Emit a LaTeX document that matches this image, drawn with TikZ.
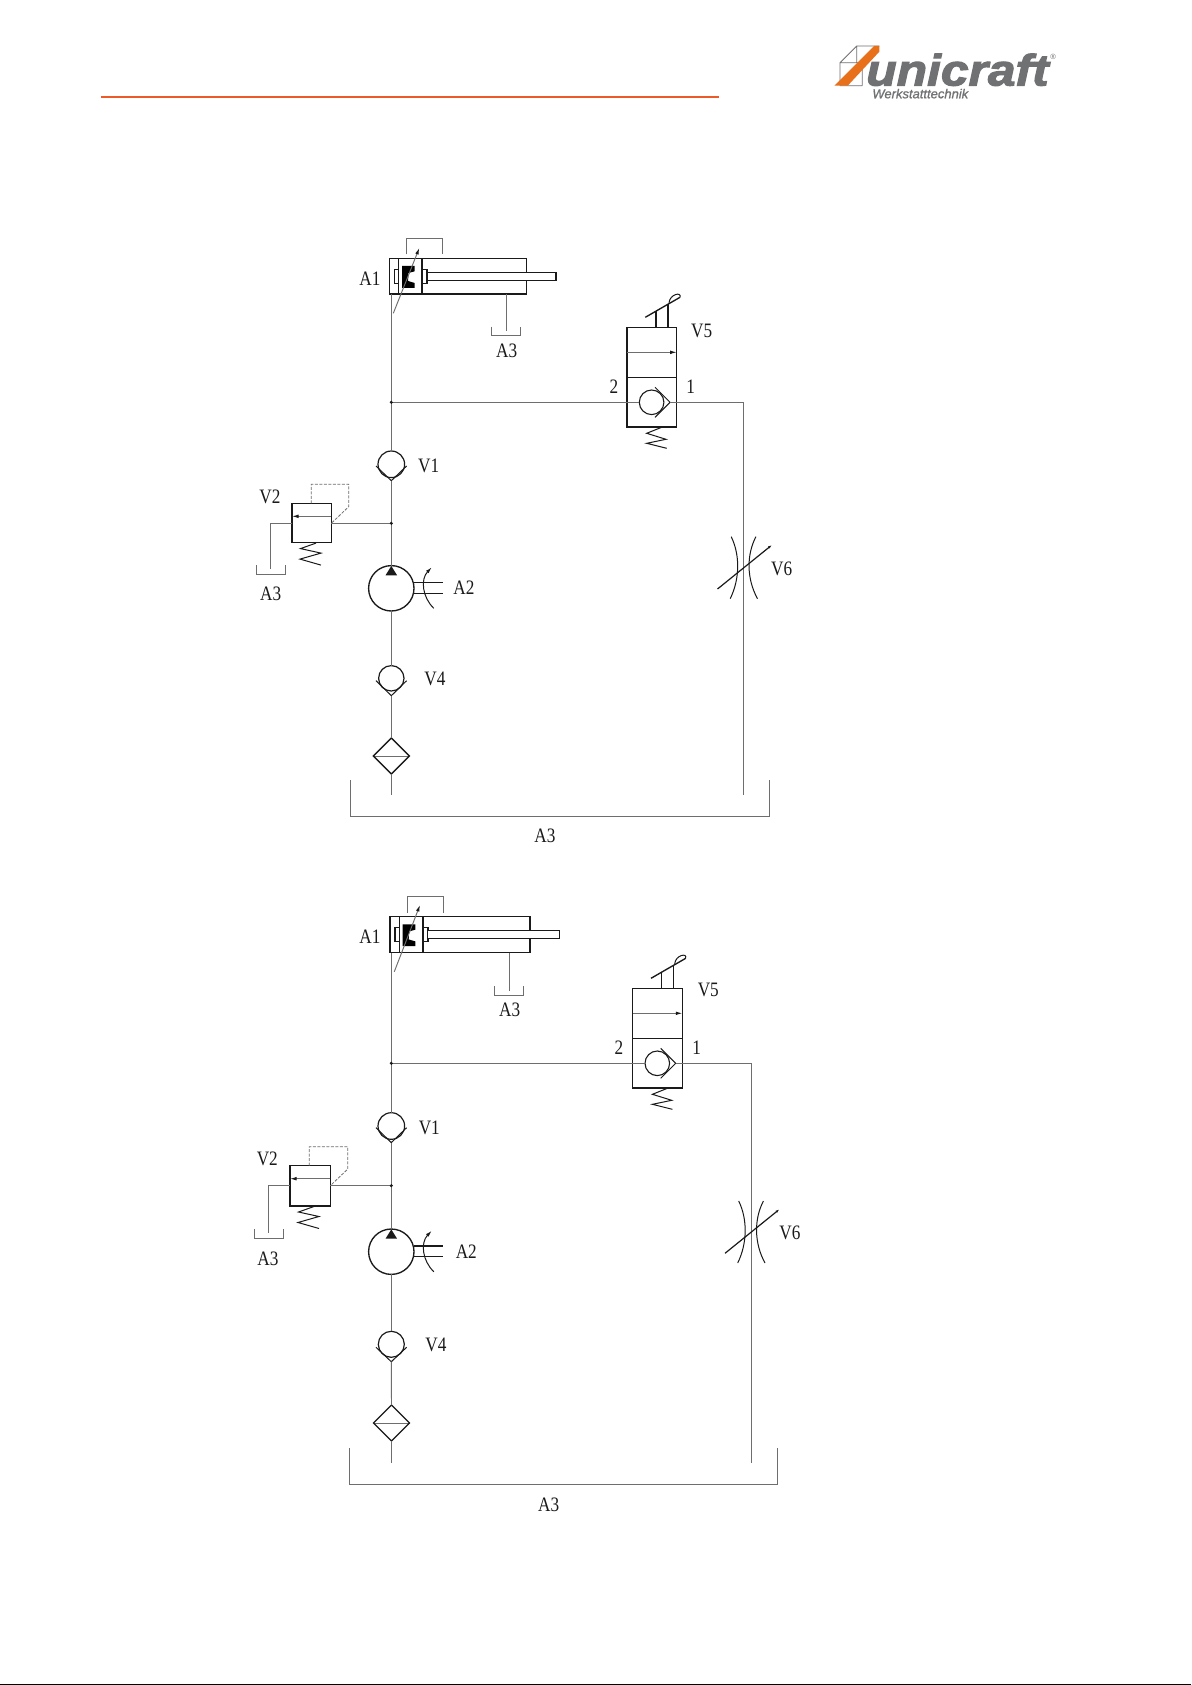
\documentclass[tikz,border=0pt]{standalone}
\usepackage{fontspec}
\usetikzlibrary{arrows.meta}
\newfontfamily\lblfont[FakeStretch=0.84]{Liberation Serif}
\newfontfamily\logofont[FakeStretch=1.13,FakeBold=2.6]{Liberation Sans Bold Italic}
\newfontfamily\subfont[FakeBold=0.9]{Liberation Sans Italic}
\newfontfamily\regfont{Liberation Sans}
\definecolor{linegray}{HTML}{6E6E6E}
\definecolor{inkdark}{HTML}{1A1A1A}
\definecolor{logogray}{HTML}{707173}
\definecolor{logoorange}{HTML}{E8701A}
\definecolor{rulered}{HTML}{EC5A29}
\tikzset{
  pipe/.style={draw=linegray,line width=0.95pt},
  ink/.style={draw=inkdark,line width=1.35pt},
  finepen/.style={draw=inkdark,line width=1pt},
  pilot/.style={draw=linegray,line width=0.8pt,dash pattern=on 3pt off 1.5pt},
  lbl/.style={font=\lblfont\fontsize{20.5}{21}\selectfont,text=inkdark,inner sep=0pt},
  roundnode/.style={circle,ink,inner sep=0pt,outer sep=0pt,minimum size=#1},
  boxnode/.style={rectangle,ink,inner sep=0pt,outer sep=0pt},
  dot/.style={circle,fill=inkdark,inner sep=0pt,minimum size=3.4pt},
  tipsmall/.style={-{Latex[length=6.5pt,width=3.6pt,color=inkdark]}},
}
% rectangle node from corners
\newcommand{\BoxFrom}[5]{\node[boxnode,minimum width={(#4-(#2))*1pt},minimum height={(#5-(#3))*1pt}] (#1) at ({(#2+#4)/2},{(#3+#5)/2}) {};}
% check valve: name, cx, cy, radius, V start offset, tip offset
\newcommand{\CheckV}[6]{%
  \node[roundnode={2*#4*1pt},line width=1.2pt] (#1) at (#2,#3) {};
  \coordinate (#1tip) at (#2,#3+#6);
  \draw[finepen] (#2-15.3,#3+#5) -- (#1tip) -- (#2+15.3,#3+#5);
}
% tank bracket: name, x1, x2, ytop, ybottom
\newcommand{\TankB}[5]{%
  \coordinate (#1a) at (#2,#4); \coordinate (#1b) at (#2,#5);
  \coordinate (#1c) at (#3,#5); \coordinate (#1d) at (#3,#4);
  \draw[pipe] (#1a) -- (#1b) -- (#1c) -- (#1d);
}
% lever valve: suffix, circle cx, cy
\newcommand{\LeverValve}[3]{%
  \BoxFrom{vbox#1}{#2-24.7}{#3-75}{#2+25}{#3-24.6}
  \BoxFrom{vlow#1}{#2-24.7}{#3-24.6}{#2+25}{#3+24.7}
  \node[roundnode=24.6pt,draw=inkdark,line width=1.1pt] (vcirc#1) at (#2-0.1,#3) {};
  \coordinate (vtip#1) at (#2+18.3,#3);
  \draw[finepen] (#2+3.3,#3-15) -- (vtip#1) -- (#2+3.3,#3+15);
  \begin{scope}[shift={(#2,#3)}]
    \draw[pipe,tipsmall] (-24.7,-50) -- (25,-50);
    \draw[ink] (4.3,-75) -- (4.3,-91);
    \draw[ink] (16.3,-75) -- (16.3,-98.5);
    \draw[ink] (-6.4,-85) -- (28.3,-105);
    \draw[finepen] (17.3,-99.5) .. controls (18,-108) and (30,-111) .. (28.3,-105);
    \draw[finepen] (10,25) -- (-5,31) -- (14.3,37) -- (-5,41) -- (15,46);
  \end{scope}
}
% relief valve: suffix, x1, y1, size
\newcommand{\Relief}[4]{%
  \BoxFrom{rv#1}{#2}{#3}{#2+#4}{#3+#4}
  \draw[pipe,tipsmall] (#2+#4,#3+13) -- (#2,#3+13);
  \draw[pilot] (#2+19.3,#3) -- (#2+19.3,#3-19) -- (#2+#4+17.4,#3-19) -- (#2+#4+17.4,#3+3.4) -- (#2+#4,#3+20);
  \begin{scope}[shift={(#2,#3+#4)}]
    \draw[finepen] (24,0.5) -- (8.5,6) -- (29,10.5) -- (8,16.5) -- (29,22.5);
  \end{scope}
}
% pump: name, cx, cy
\newcommand{\Pump}[3]{%
  \node[roundnode=45.4pt] (#1) at (#2,#3) {};
  \begin{scope}[shift={(#2,#3)}]
    \fill[inkdark] (0,-22.3) -- (5.8,-13) -- (-5.8,-13) -- cycle;
    \draw[ink] (22.7,-5.6) -- (51.7,-5.6);
    \draw[ink] (22.7,5.1) -- (51.7,5.1);
    \draw[finepen,tipsmall] (42.5,20) .. controls (31,9) and (29,-9) .. (40.5,-21);
  \end{scope}
}
% filter: name, cx, cy
\newcommand{\FilterD}[3]{%
  \coordinate (#1n) at (#2,#3-18); \coordinate (#1s) at (#2,#3+18);
  \coordinate (#1w) at (#2-18,#3); \coordinate (#1e) at (#2+18,#3);
  \draw[pipe] (#1w) -- (#1e);
  \draw[ink] (#1n) -- (#1e) -- (#1s) -- (#1w) -- cycle;
}
% throttle: name, x, y (centre of pinch)
\newcommand{\Throttle}[3]{%
  \begin{scope}[shift={(#2,#3)}]
    \draw[finepen] (-12.3,-30) .. controls (-3.5,-12) and (-3.5,12) .. (-13.3,32);
    \draw[finepen] (12.4,-30) .. controls (3,-12) and (3,12) .. (14,32);
    \draw[draw=inkdark,line width=1.2pt,-{Latex[length=4pt,width=2.6pt]}] (-26,22.3) -- (28.4,-21.7);
  \end{scope}
}
% cylinder: suffix, x1, y1, x2, y2, vertical inner x a, x b, block y1, y2
\newcommand{\Cyl}[9]{%
  \BoxFrom{cyl#1}{#2}{#3}{#4}{#5}
  \draw[ink] (#6,#3) -- (#6,#5);
  \draw[ink] (#7,#3) -- (#7,#5);
  \draw[fill=white,ink] (#7+0.7,#8) rectangle (#7+5,#9);
  \draw[ink] (#6-4.4,#8) rectangle (#6,#9);
  \begin{scope}[shift={(#6+3.4,#8-3.3)}]
    \fill[black] (0,0) -- (12.6,0) -- (12.6,5.3) -- (6.4,7) -- (6,15) -- (12.6,17) -- (12.6,21.8) -- (0,21.8) -- cycle;
  \end{scope}
}
\begin{document}
\begin{tikzpicture}[x=1pt,y=-1pt]
\useasboundingbox (0,0) rectangle (1191,1685);
\fill[white] (0,0) rectangle (1191,1685);
% header
\coordinate (ruleL) at (101,96.7); \coordinate (ruleR) at (719,96.7);
\draw[rulered,line width=2pt] (ruleL) -- (ruleR);
\fill[black] (0,1683.6) rectangle (1191,1685);
% logo
\draw[logogray,line width=0.8pt] (840,62.7) -- (856.7,46) -- (879.3,46) (840,62.7) -- (840,85.7) (840,62.7) -- (862.3,62.7) -- (862.3,85.7) (856.7,46) -- (856.7,62.7) (840,85.7) -- (862.3,85.7);
\fill[logoorange] (834.3,85.7) -- (847.7,85.7) -- (879.3,51.7) -- (879.3,46) -- (874,46) -- cycle;
\node[font=\logofont\fontsize{44}{44}\selectfont,text=logogray,inner sep=0pt,anchor=base] (logoname) at (957.5,85.5) {unicraft};
\node[font=\subfont\fontsize{13}{14}\selectfont,text=logogray,inner sep=0pt,anchor=base] (logosub) at (920.3,98.3) {Werkstatttechnik};
\node[font=\regfont\fontsize{7.5}{8}\selectfont,text=logogray,inner sep=0pt] (logoreg) at (1053,56.5) {®};

%%%%%%%%%% upper circuit
\Cyl{a}{389.5}{258.7}{526.7}{294}{398.7}{422}{269.3}{283.3}
\draw[ink,fill=white] (427.3,272.3) rectangle (556,280.7);
\coordinate (brA) at (406.3,254.3); \coordinate (brB) at (406.3,238.3);
\coordinate (brC) at (442.3,238.3); \coordinate (brD) at (442.3,254.3);
\draw[pipe] (brA) -- (brB) -- (brC) -- (brD);
\coordinate (adjAs) at (393.3,313.3); \coordinate (adjAe) at (419.3,248);
\draw[pipe,tipsmall] (adjAs) -- (adjAe);
\coordinate (portAtop) at (391.3,294);
\coordinate (j1a) at (391.3,402.3);
\coordinate (j2a) at (391.3,523.3);
\LeverValve{a}{651.7}{402.3}
\CheckV{chk1a}{391.3}{464.3}{13.3}{1.7}{16.4}
\Relief{a}{292}{503.3}{39.3}
\Pump{pumpa}{391.3}{588.3}
\CheckV{chk4a}{391.3}{678.3}{12.7}{2.4}{17.4}
\FilterD{fila}{391.3}{756}
\coordinate (suctA) at (391.3,794.7);
\TankB{tkmainA}{350.3}{769.5}{780.3}{816.3}
\TankB{tkcylA}{491.3}{520.3}{326.7}{335.3}
\TankB{tkrvA}{256.7}{285.3}{565}{574.3}
\coordinate (cylDrainA) at (506.3,294); \coordinate (cylDrainAe) at (506.3,331);
\draw[pipe] (cylDrainA) -- (cylDrainAe);
\coordinate (cornA) at (743.3,402.3); \coordinate (retA) at (743.3,794.7);
\coordinate (rvcA) at (270.7,523.3); \coordinate (rvdA) at (270.7,569.3);
\draw[pipe] (portAtop) -- (j1a) -- (chk1a.north);
\draw[pipe] (j1a) -- (vcirca.west);
\draw[pipe] (vtipa) -- (cornA) -- (retA);
\draw[pipe] (chk1atip) -- (j2a) -- (pumpa.north);
\draw[pipe] (j2a) -- (rva.east |- j2a);
\draw[pipe] (rva.west |- j2a) -- (rvcA) -- (rvdA);
\draw[pipe] (pumpa.south) -- (chk4a.north);
\draw[pipe] (chk4atip) -- (filan);
\draw[pipe] (filas) -- (suctA);
\node[dot] (dj1a) at (j1a) {};
\node[dot] (dj2a) at (j2a) {};
\Throttle{thra}{743.5}{566.7}
\node[lbl] (lA1a) at (370,278.7) {A1};
\node[lbl] (lA3a) at (506.7,350.7) {A3};
\node[lbl] (lV5a) at (701.7,330.7) {V5};
\node[lbl] (l2a) at (614,386.7) {2};
\node[lbl] (l1a) at (690.7,386.7) {1};
\node[lbl] (lV1a) at (428.7,466) {V1};
\node[lbl] (lV2a) at (270,496.7) {V2};
\node[lbl] (lA3ra) at (270.7,594) {A3};
\node[lbl] (lA2a) at (464,587.3) {A2};
\node[lbl] (lV4a) at (435,679.3) {V4};
\node[lbl] (lV6a) at (781.7,569.3) {V6};
\node[lbl] (lA3ma) at (545,836) {A3};

%%%%%%%%%% lower circuit
\Cyl{b}{390}{916.7}{530}{952.7}{399.3}{423}{927.7}{941.7}
\draw[ink,fill=white] (427.7,930.7) rectangle (559.3,938.7);
\coordinate (brE) at (407.3,912.7); \coordinate (brF) at (407.3,896);
\coordinate (brG) at (443.3,896); \coordinate (brH) at (443.3,912.7);
\draw[pipe] (brE) -- (brF) -- (brG) -- (brH);
\coordinate (adjBs) at (394.3,971.7); \coordinate (adjBe) at (420,905);
\draw[pipe,tipsmall] (adjBs) -- (adjBe);
\coordinate (portBtop) at (391.3,952.7);
\coordinate (j1b) at (391.3,1063.3);
\coordinate (j2b) at (391.3,1185.7);
\LeverValve{b}{657.4}{1063.3}
\CheckV{chk1b}{391.3}{1126}{13.3}{1.7}{16.6}
\Relief{b}{290}{1165.7}{40.3}
\Pump{pumpb}{391.3}{1251.7}
\CheckV{chk4b}{391.3}{1344.3}{13}{3}{17.4}
\FilterD{filb}{391.5}{1423}
\coordinate (suctB) at (391.5,1462.7);
\TankB{tkmainB}{349.3}{777}{1448}{1484.3}
\TankB{tkcylB}{494.3}{523.3}{986}{995.3}
\TankB{tkrvB}{254.3}{283.3}{1229.3}{1238.3}
\coordinate (cylDrainB) at (509.3,952.7); \coordinate (cylDrainBe) at (509.3,990.7);
\draw[pipe] (cylDrainB) -- (cylDrainBe);
\coordinate (cornB) at (751.4,1063.3); \coordinate (retB) at (751.4,1462.5);
\coordinate (rvcB) at (268.7,1185.7); \coordinate (rvdB) at (268.7,1233.3);
\draw[pipe] (portBtop) -- (j1b) -- (chk1b.north);
\draw[pipe] (j1b) -- (vcircb.west);
\draw[pipe] (vtipb) -- (cornB) -- (retB);
\draw[pipe] (chk1btip) -- (j2b) -- (pumpb.north);
\draw[pipe] (j2b) -- (rvb.east |- j2b);
\draw[pipe] (rvb.west |- j2b) -- (rvcB) -- (rvdB);
\draw[pipe] (pumpb.south) -- (chk4b.north);
\draw[pipe] (chk4btip) -- (filbn);
\draw[pipe] (filbs) -- (suctB);
\node[dot] (dj1b) at (j1b) {};
\node[dot] (dj2b) at (j2b) {};
\Throttle{thrb}{751}{1231}
\node[lbl] (lA1b) at (370,936.7) {A1};
\node[lbl] (lA3b) at (509.7,1010) {A3};
\node[lbl] (lV5b) at (708.3,990) {V5};
\node[lbl] (l2b) at (619,1047.3) {2};
\node[lbl] (l1b) at (696.7,1047.3) {1};
\node[lbl] (lV1b) at (429.3,1128) {V1};
\node[lbl] (lV2b) at (267.3,1158.7) {V2};
\node[lbl] (lA3rb) at (268,1258.7) {A3};
\node[lbl] (lA2b) at (466.3,1251.7) {A2};
\node[lbl] (lV4b) at (436,1345) {V4};
\node[lbl] (lV6b) at (790,1233.3) {V6};
\node[lbl] (lA3mb) at (548.7,1505) {A3};
\end{tikzpicture}
\end{document}
